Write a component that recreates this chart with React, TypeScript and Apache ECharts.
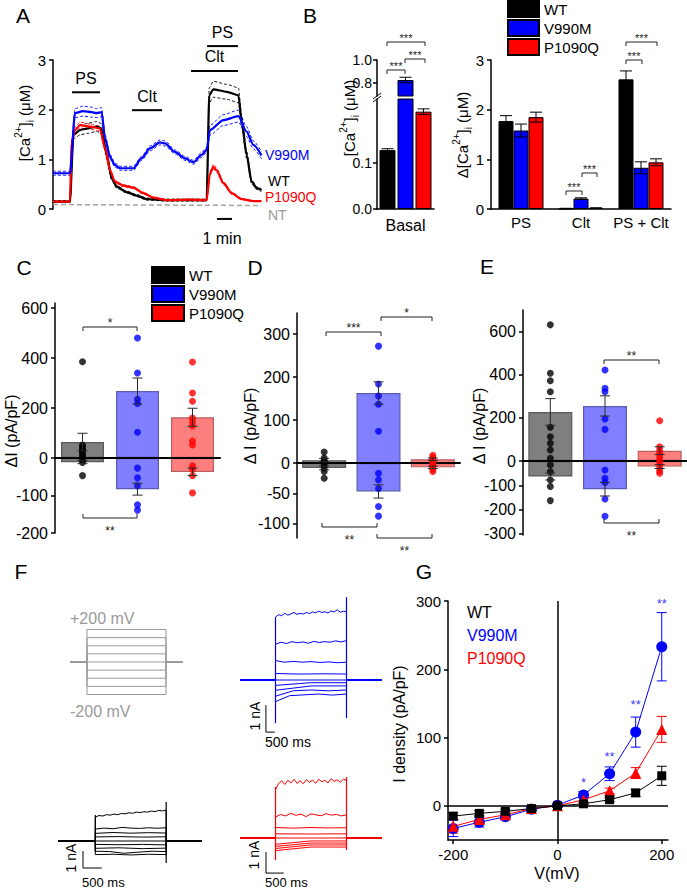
import React, { useEffect, useRef } from 'react';
import * as echarts from 'echarts';

const FONT = '"Liberation Sans", Arial, Helvetica, sans-serif';
const BLUE = '#0000ff';
const RED = '#ff0000';
const BLACK = '#000000';
const NTGRAY = '#a6a6a6';
const PROTO = '#9a9a9a';

const GENOTYPES = ['WT', 'V990M', 'P1090Q'];
const GCOL = [BLACK, BLUE, RED];

// ---------- Panel A : [Ca2+]i time courses (t in min, value in µM)
const aWtT = [0, 1.13, 1.36, 1.8, 2.24, 2.91, 3.24, 3.58, 3.91, 4.24, 4.91, 5.58, 6.24, 7.58, 8.69, 10.24, 10.42, 10.69, 11.58, 12.36, 12.58, 12.91, 13.24, 13.58, 13.9];
const aWtV = [0.15, 0.15, 1.49, 1.59, 1.62, 1.66, 1.62, 1.09, 0.62, 0.45, 0.34, 0.27, 0.2, 0.18, 0.18, 0.18, 2.29, 2.41, 2.36, 2.29, 1.76, 1.09, 0.55, 0.42, 0.38];
const aWtSem = [0.02, 0.02, 0.08, 0.1, 0.1, 0.1, 0.1, 0.07, 0.04, 0.03, 0.02, 0.02, 0.02, 0.02, 0.02, 0.02, 0.15, 0.16, 0.15, 0.15, 0.12, 0.07, 0.04, 0.03, 0.03];
const aV990MT = [0, 1.13, 1.47, 2.0, 2.58, 2.9, 3.24, 3.47, 3.8, 4.13, 4.47, 5.36, 5.9, 6.47, 7.13, 7.47, 8.13, 8.8, 9.36, 9.91, 10.24, 10.47, 11.36, 12.36, 12.9, 13.36, 13.9];
const aV990MV = [0.72, 0.72, 1.93, 1.97, 1.95, 1.93, 1.95, 1.43, 1.05, 0.885, 0.82, 0.82, 1.02, 1.22, 1.34, 1.32, 1.15, 1.02, 0.94, 1.09, 1.19, 1.59, 1.79, 1.87, 1.56, 1.29, 1.08];
const aV990MSem = [0.04, 0.04, 0.09, 0.1, 0.1, 0.09, 0.09, 0.07, 0.05, 0.04, 0.04, 0.04, 0.04, 0.05, 0.05, 0.05, 0.04, 0.04, 0.04, 0.05, 0.05, 0.1, 0.11, 0.12, 0.1, 0.08, 0.07];
const aP1090QT = [0, 1.13, 1.24, 1.47, 1.8, 2.47, 3.13, 3.47, 3.8, 4.13, 4.69, 5.36, 6.02, 6.69, 7.58, 9.13, 10.24, 10.47, 10.69, 10.91, 11.36, 11.91, 12.58, 13.36, 13.9];
const aP1090QV = [0.15, 0.15, 1.35, 1.59, 1.69, 1.66, 1.62, 1.22, 0.78, 0.55, 0.47, 0.43, 0.32, 0.23, 0.18, 0.19, 0.18, 0.72, 0.85, 0.78, 0.52, 0.32, 0.2, 0.16, 0.16];
const aP1090QSem = [0.01, 0.01, 0.05, 0.06, 0.06, 0.05, 0.05, 0.04, 0.03, 0.02, 0.02, 0.02, 0.02, 0.01, 0.01, 0.01, 0.01, 0.04, 0.05, 0.04, 0.03, 0.02, 0.01, 0.01, 0.01];
const aNtT = [0, 13.9];
const aNtV = [0.09, 0.07];
const aStimT0 = [1.27, 5.27, 9.2, 10.27];
const aStimT1 = [3.13, 7.27, 12.33, 12.33];
const aStimY = [2.35, 1.99, 2.78, 3.28];
const aStimLabel = ['PS', 'Clt', 'Clt', 'PS'];
const aScaleBarMin = [10.93, 11.93];

// ---------- Panel B
const bBasal = [0.128, 0.826, 0.2115];
const bBasalSem = [0.003, 0.024, 0.006];
const bCats = ['PS', 'Clt', 'PS + Clt'];
const bWt = [1.77, 0.01, 2.61];
const bWtSem = [0.11, 0.004, 0.17];
const bV990M = [1.58, 0.21, 0.83];
const bV990MSem = [0.13, 0.015, 0.12];
const bP1090Q = [1.85, 0.02, 0.94];
const bP1090QSem = [0.1, 0.004, 0.07];

// ---------- Panels C, D, E (ΔI, pA/pF); negative half of the axis is expanded
const cPos = [64, 268, 163];
const cPosSem = [35, 52, 36];
const cNeg = [-11, -83, -37];
const cNegSem = [4, 16, 10];
const cDotsWt = [385, 52, 44, 36, 28, 20, 12, 4, -5, -12, -47];
const cDotsV990M = [480, 340, 235, 218, 103, -27, -53, -74, -125, -139];
const cDotsP1090Q = [384, 260, 227, 160, 145, 128, 68, 52, -21, -30, -47, -93];
const cTicks = [-200, -100, 0, 200, 400, 600];

const dPos = [7, 163, 9];
const dPosSem = [4, 26, 3];
const dNeg = [-8, -47, -7];
const dNegSem = [3, 11, 2];
const dDotsWt = [26, 12, 6, 2, -3, -8, -14, -25];
const dDotsV990M = [272, 184, 156, 137, 74, -17, -28, -42, -72, -88];
const dDotsP1090Q = [18, 13, 9, 5, 1, -3, -7, -10, -14];
const dTicks = [-100, -50, 0, 100, 200, 300];

const ePos = [228, 256, 48];
const ePosSem = [62, 47, 18];
const eNeg = [-64, -116, -23];
const eNegSem = [14, 28, 8];
const eDotsWt = [633, 408, 373, 322, 157, 113, 82, 51, 13, -16, -44, -78, -105, -163];
const eDotsV990M = [423, 338, 322, 195, 147, -37, -71, -88, -156, -227];
const eDotsP1090Q = [187, 66, 50, 35, 20, 5, -10, -25, -40, -50];
const eTicks = [-300, -200, -100, 0, 200, 400, 600];

// ---------- Panel F : protocol (mV) and current traces (nA) during the step
const fProtoV = [200, 150, 100, 50, 0, -50, -100, -150, -200];
const fProtoMs = 2000;
const fV990MSweeps = [
  [2.33, 2.42, 2.38, 2.47, 2.4, 2.45, 2.5, 2.43, 2.47, 2.44, 2.5, 2.46, 2.52, 2.49, 2.55, 2.5, 2.53, 2.48, 2.56, 2.52, 2.6, 2.51, 2.55, 2.53],
  [1.32, 1.4, 1.35, 1.42, 1.38, 1.41, 1.36, 1.43, 1.39, 1.42, 1.4, 1.45, 1.41, 1.46],
  [0.72, 0.66, 0.69, 0.66, 0.68, 0.65, 0.67, 0.64, 0.66],
  [0.24, 0.22, 0.23, 0.22],
  [0, 0],
  [-0.2, -0.1, -0.1],
  [-0.38, -0.22, -0.22],
  [-0.6, -0.4, -0.37, -0.4, -0.37],
  [-0.8, -0.58, -0.55, -0.52, -0.56, -0.52],
];
const fWtSweeps = [
  [1.4, 1.5, 1.47, 1.55, 1.52, 1.58, 1.55, 1.62, 1.6, 1.66, 1.63, 1.7, 1.67, 1.72, 1.7, 1.76, 1.73, 1.8, 1.77, 1.82],
  [0.7, 0.76, 0.72, 0.8, 0.76, 0.74, 0.78, 0.75, 0.78],
  [0.45, 0.5, 0.46, 0.49, 0.47],
  [0.24, 0.26, 0.23, 0.25],
  [0, 0],
  [-0.2, -0.22, -0.2, -0.23],
  [-0.43, -0.4, -0.45, -0.42],
  [-0.6, -0.62, -0.72, -0.66, -0.6, -0.62],
  [-0.8, -0.78, -0.82, -0.78, -0.8],
];
const fP1090QSweeps = [
  [2.3, 2.6, 2.72, 2.55, 2.75, 2.62, 2.8, 2.6, 2.72, 2.58, 2.78, 2.65, 2.76, 2.6, 2.8, 2.68, 2.75, 2.62, 2.82, 2.7, 2.77, 2.66, 2.8, 2.74],
  [1.0, 1.12, 1.05, 1.18, 1.08, 1.14, 1.02, 1.15, 1.1, 1.06, 1.16, 1.09, 1.12, 1.05, 1.1],
  [0.5, 0.47, 0.5, 0.48, 0.49],
  [0.2, 0.19, 0.2],
  [0, 0],
  [-0.3, -0.14, -0.14],
  [-0.4, -0.24, -0.24],
  [-0.5, -0.33, -0.33],
  [-0.6, -0.43, -0.43],
];
// capacitive transients [onsetHigh, onsetLow, offsetHigh, offsetLow]
const fV990MSpikes = [2.33, -1.6, 3.07, -1.41];
const fWtSpikes = [1.53, -0.65, 2.29, -1.29];
const fP1090QSpikes = [2.43, -1.05, 2.9, -0.57];
const fV990MPulseMs = 4000;
const fWtPulseMs = 1900;
const fP1090QPulseMs = 2000;

// ---------- Panel G : I–V
const gV = [-200, -150, -100, -50, 0, 50, 100, 150, 200];
const gWt = [-15, -11, -8, -4, 0, 3, 9, 19, 44];
const gWtSem = [5, 4, 3, 3, 2, 2, 3, 5, 14];
const gV990M = [-33, -24, -16, -5, 1, 16, 47, 108, 233];
const gV990MSem = [12, 7, 4, 3, 2, 5, 10, 22, 50];
const gP1090Q = [-30, -20, -13, -4, 0, 9, 22, 48, 112];
const gP1090QSem = [10, 6, 4, 3, 2, 3, 4, 8, 19];
const gSigV = [50, 100, 150, 200];
const gSigY = [34, 73, 149, 297];
const gSigLabel = ['*', '**', '**', '**'];

// ---------------------------------------------------------------- helpers
const zip = (xs: number[], ys: number[]) => xs.map((x, i) => [x, ys[i]]);
const disp = (v: number, f: number) => (v < 0 ? v * f : v);
const AXL = { color: '#000', width: 1.5 };

function T(x: number, y: number, text: string, fontSize = 15, fill = '#000', align = 'center', extra: any = {}) {
  return {
    type: 'text', x, y, z: 100, silent: true,
    style: { text, fontSize, fontFamily: FONT, fill, align, verticalAlign: 'middle', textAlign: align, textVerticalAlign: 'middle' },
    ...extra,
  };
}
function richLabel(x: number, y: number, text: string) {
  return {
    type: 'text', x, y, z: 100, silent: true, rotation: Math.PI / 2,
    style: {
      text, fill: '#000', align: 'center', verticalAlign: 'middle', textAlign: 'center', textVerticalAlign: 'middle',
      fontSize: 15, fontFamily: FONT,
      rich: {
        n: { fontSize: 15, fontFamily: FONT, lineHeight: 22, fill: '#000' },
        sup: { fontSize: 10, fontFamily: FONT, lineHeight: 10, verticalAlign: 'top', fill: '#000' },
        sub: { fontSize: 10, fontFamily: FONT, lineHeight: 10, verticalAlign: 'bottom', fill: '#000' },
      },
    },
  };
}
function bracket(x1: number, x2: number, y: number, dir: number, stars: string, fs = 12) {
  return [
    {
      type: 'polyline', z: 100, silent: true,
      shape: { points: [[x1, y + 4 * dir], [x1, y], [x2, y], [x2, y + 4 * dir]] },
      style: { stroke: '#222', lineWidth: 1, fill: null },
    },
    T((x1 + x2) / 2, dir > 0 ? y - 4 : y + 13, stars, fs, '#222'),
  ];
}
function errBars(axis: number, items: number[][], color: string, cap: number, offset: number, z: number) {
  return {
    type: 'custom', xAxisIndex: axis, yAxisIndex: axis, z, silent: true,
    encode: { x: 0, y: [1, 2] },
    data: items,
    renderItem: (_p: any, api: any) => {
      const x = api.value(0);
      const a = api.coord([x, api.value(1)]);
      const b = api.coord([x, api.value(2)]);
      const cx = a[0] + offset;
      const h = cap / 2;
      const style = { stroke: color, lineWidth: 1 };
      return {
        type: 'group',
        children: [
          { type: 'line', shape: { x1: cx, y1: a[1], x2: cx, y2: b[1] }, style },
          { type: 'line', shape: { x1: cx - h, y1: a[1], x2: cx + h, y2: a[1] }, style },
          { type: 'line', shape: { x1: cx - h, y1: b[1], x2: cx + h, y2: b[1] }, style },
        ],
      };
    },
  };
}
function lineS(axis: number, data: any[], color: string, width: number, extra: any = {}) {
  return {
    type: 'line', xAxisIndex: axis, yAxisIndex: axis, data, symbol: 'none', showSymbol: false,
    lineStyle: { color, width }, itemStyle: { color }, silent: true, clip: false, z: 3,
    ...extra,
  };
}
function sweepData(vals: number[], pulse: number, w0: number, w1: number) {
  const n = vals.length;
  const pts: number[][] = [[w0, 0], [0, 0]];
  vals.forEach((v, i) => pts.push([(i * pulse) / (n - 1), v]));
  pts.push([pulse, 0], [w1, 0]);
  return pts;
}

// --- C/D/E panel builder
function dotPanel(axis: number, f: number, pos: number[], posSem: number[], neg: number[], negSem: number[], dots: number[][], barW: number) {
  const fills = ['rgba(0,0,0,0.5)', 'rgba(0,0,255,0.5)', 'rgba(255,0,0,0.5)'];
  const borders = ['#5a5a5a', '#5c5cb0', '#b86060'];
  const mk = (vals: number[]) => vals.map((v, i) => ({ value: disp(v, f), itemStyle: { color: fills[i], borderColor: borders[i], borderWidth: 1.2 } }));
  const dotData: any[] = [];
  dots.forEach((arr, i) => arr.forEach((v) => dotData.push({ value: [i, disp(v, f)], itemStyle: { color: GCOL[i] } })));
  const errs: number[][] = [];
  pos.forEach((v, i) => errs.push([i, disp(v - posSem[i], f), disp(v + posSem[i], f)]));
  neg.forEach((v, i) => errs.push([i, disp(v - negSem[i], f), disp(v + negSem[i], f)]));
  return [
    { type: 'bar', name: 'pos' + axis, xAxisIndex: axis, yAxisIndex: axis, data: mk(pos), barWidth: barW, barGap: '-100%', z: 2, silent: true },
    { type: 'bar', name: 'neg' + axis, xAxisIndex: axis, yAxisIndex: axis, data: mk(neg), barWidth: barW, barGap: '-100%', z: 2, silent: true },
    { type: 'scatter', xAxisIndex: axis, yAxisIndex: axis, data: dotData, symbolSize: 7, z: 6, silent: true },
    errBars(axis, errs, '#2a2a2a', 10, 0, 7),
  ];
}
function dotAxes(axis: number, f: number, min: number, max: number, ticks: number[]) {
  const tv = ticks.map((t) => disp(t, f));
  return {
    x: {
      gridIndex: axis, type: 'category', data: GENOTYPES, z: 5,
      axisLine: { show: true, onZero: true, lineStyle: { color: '#000', width: 2 } },
      axisTick: { show: false }, axisLabel: { show: false }, splitLine: { show: false },
    },
    y: {
      gridIndex: axis, type: 'value', min, max,
      axisLine: { show: true, lineStyle: AXL },
      axisTick: { show: true, length: 4, lineStyle: AXL, customValues: tv },
      axisLabel: {
        customValues: tv, fontSize: 16, margin: 7, color: '#000', fontFamily: FONT,
        formatter: (v: number) => String(Math.round(v < 0 ? v / f : v)),
      },
      splitLine: { show: false },
    },
  };
}

function buildOption() {
  const grids = [
    { left: 53, top: 60, width: 210, height: 149 },
    { left: 377, top: 60, width: 57, height: 36 },
    { left: 377, top: 99, width: 57, height: 110 },
    { left: 491, top: 60, width: 180, height: 149 },
    { left: 55, top: 303, width: 165, height: 230 },
    { left: 297, top: 313, width: 163, height: 225 },
    { left: 523, top: 310, width: 164, height: 225 },
    { left: 70, top: 623, width: 113, height: 78 },
    { left: 240, top: 588.2, width: 142, height: 148.5 },
    { left: 58, top: 798.5, width: 144, height: 73.1 },
    { left: 240, top: 775, width: 142, height: 100.8 },
    { left: 448, top: 601, width: 220, height: 239 },
  ];
  const hidden = (g: number, min: number, max: number) => ({ gridIndex: g, type: 'value', min, max, show: false, splitLine: { show: false } });
  const yStd = (g: number, min: number, max: number, extra: any = {}) => ({
    gridIndex: g, type: 'value', min, max,
    axisLine: { show: true, onZero: false, lineStyle: AXL },
    axisTick: { show: true, length: 4, lineStyle: AXL },
    axisLabel: { fontSize: 15, margin: 7, color: '#000', fontFamily: FONT },
    splitLine: { show: false },
    ...extra,
  });
  const C = dotAxes(4, 1.5, -300, 620, cTicks);
  const D = dotAxes(5, 1.4, -174, 349, dTicks);
  const E = dotAxes(6, 1.13, -344, 702, eTicks);

  const xAxis: any[] = [
    hidden(0, 0, 14),
    { gridIndex: 1, type: 'category', data: ['Basal'], show: false },
    {
      gridIndex: 2, type: 'category', data: ['Basal'],
      axisLine: { show: true, lineStyle: AXL }, axisTick: { show: false },
      axisLabel: { fontSize: 16, margin: 8, color: '#000', fontFamily: FONT },
    },
    {
      gridIndex: 3, type: 'category', data: bCats,
      axisLine: { show: true, lineStyle: AXL }, axisTick: { show: false },
      axisLabel: { interval: 0, hideOverlap: false, fontSize: 15, margin: 6, color: '#000', fontFamily: FONT },
    },
    C.x, D.x, E.x,
    hidden(7, -430, 2430),
    hidden(8, -2000, 6000),
    hidden(9, -1000, 2860),
    hidden(10, -1000, 3000),
    {
      gridIndex: 11, type: 'value', min: -210, max: 212,
      axisLine: { show: true, onZero: false, lineStyle: AXL },
      axisTick: { show: true, length: 4, lineStyle: AXL, customValues: [-200, 0, 200] },
      axisLabel: { customValues: [-200, 0, 200], fontSize: 15, margin: 7, color: '#000', fontFamily: FONT },
      splitLine: { show: false },
    },
  ];
  const yAxis: any[] = [
    yStd(0, 0, 3, { interval: 1 }),
    yStd(1, 0.687, 1.0, {
      axisTick: { show: true, length: 4, lineStyle: AXL, customValues: [0.8, 1.0] },
      axisLabel: { customValues: [0.8, 1.0], fontSize: 14, margin: 5, color: '#000', fontFamily: FONT, formatter: (v: number) => v.toFixed(1) },
    }),
    yStd(2, 0, 0.239, {
      axisTick: { show: true, length: 4, lineStyle: AXL, customValues: [0, 0.1] },
      axisLabel: { customValues: [0, 0.1], fontSize: 14, margin: 5, color: '#000', fontFamily: FONT, formatter: (v: number) => v.toFixed(1) },
    }),
    yStd(3, 0, 3, { interval: 1 }),
    C.y, D.y, E.y,
    hidden(7, -240, 240),
    hidden(8, -2.1, 3.4),
    hidden(9, -1.8, 2.5),
    hidden(10, -1.8, 3.0),
    yStd(11, -50, 300, {
      axisTick: { show: true, length: 4, lineStyle: AXL, customValues: [0, 100, 200, 300] },
      axisLabel: { customValues: [0, 100, 200, 300], fontSize: 15, margin: 7, color: '#000', fontFamily: FONT },
    }),
  ];

  const series: any[] = [];

  // ---- A
  const aTr = [
    { t: aWtT, v: aWtV, s: aWtSem, c: BLACK },
    { t: aP1090QT, v: aP1090QV, s: aP1090QSem, c: RED },
    { t: aV990MT, v: aV990MV, s: aV990MSem, c: BLUE },
  ];
  series.push(lineS(0, zip(aNtT, aNtV), NTGRAY, 1.5, { lineStyle: { color: NTGRAY, width: 1.5, type: [5, 3] } }));
  aTr.forEach((tr) => {
    const up = tr.t.map((t, i) => [t, tr.v[i] + tr.s[i]]);
    const lo = tr.t.map((t, i) => [t, tr.v[i] - tr.s[i]]);
    const dash = { lineStyle: { color: tr.c, width: 0.9, type: [3, 2] }, smooth: 0.25, smoothMonotone: 'x' };
    series.push(lineS(0, up, tr.c, 0.9, dash));
    series.push(lineS(0, lo, tr.c, 0.9, dash));
  });
  aTr.forEach((tr) => series.push(lineS(0, zip(tr.t, tr.v), tr.c, 2.2, { smooth: 0.25, smoothMonotone: 'x', z: 4 })));
  series.push(lineS(0, aScaleBarMin.map((t) => [t, -0.2]), BLACK, 2));
  series.push({
    type: 'custom', xAxisIndex: 0, yAxisIndex: 0, z: 5, silent: true, clip: false,
    data: aStimT0.map((t0, i) => [t0, aStimT1[i], aStimY[i], i]),
    renderItem: (_p: any, api: any) => {
      const i = api.value(3);
      const p0 = api.coord([api.value(0), api.value(2)]);
      const p1 = api.coord([api.value(1), api.value(2)]);
      return {
        type: 'group',
        children: [
          { type: 'line', shape: { x1: p0[0], y1: p0[1], x2: p1[0], y2: p1[1] }, style: { stroke: '#000', lineWidth: 2 } },
          {
            type: 'text', x: (p0[0] + p1[0]) / 2, y: p0[1] - 14,
            style: { text: aStimLabel[i], fontSize: 16, fontFamily: FONT, fill: '#000', align: 'center', verticalAlign: 'middle', textAlign: 'center', textVerticalAlign: 'middle' },
          },
        ],
      };
    },
  });

  // ---- B basal (broken axis: two grids)
  const bBorder = { borderColor: '#000', borderWidth: 1 };
  series.push({ type: 'bar', name: 'V990M', xAxisIndex: 1, yAxisIndex: 1, data: [bBasal[1]], barWidth: 16, itemStyle: { color: BLUE, ...bBorder }, silent: true });
  GENOTYPES.forEach((g, i) => {
    series.push({ type: 'bar', name: g, xAxisIndex: 2, yAxisIndex: 2, data: [bBasal[i]], barWidth: 16, barGap: '12.5%', itemStyle: { color: GCOL[i], ...bBorder }, silent: true });
  });
  series.push(errBars(1, [[0, bBasal[1] - bBasalSem[1], bBasal[1] + bBasalSem[1]]], '#000', 12, 0, 5));
  series.push(errBars(2, [[0, bBasal[0] - bBasalSem[0], bBasal[0] + bBasalSem[0]]], '#000', 12, -18, 5));
  series.push(errBars(2, [[0, bBasal[2] - bBasalSem[2], bBasal[2] + bBasalSem[2]]], '#000', 12, 18, 5));

  // ---- B Δ
  const bVals = [bWt, bV990M, bP1090Q];
  const bSems = [bWtSem, bV990MSem, bP1090QSem];
  GENOTYPES.forEach((g, i) => {
    series.push({ type: 'bar', name: g, xAxisIndex: 3, yAxisIndex: 3, data: bVals[i], barWidth: 15, barGap: '0%', itemStyle: { color: GCOL[i], ...bBorder }, silent: true });
  });
  GENOTYPES.forEach((_g, i) => {
    series.push(errBars(3, bVals[i].map((v, j) => [j, v - bSems[i][j], v + bSems[i][j]]), '#000', 12, (i - 1) * 15, 5));
  });

  // ---- C, D, E
  series.push(...dotPanel(4, 1.5, cPos, cPosSem, cNeg, cNegSem, [cDotsWt, cDotsV990M, cDotsP1090Q], 43));
  series.push(...dotPanel(5, 1.4, dPos, dPosSem, dNeg, dNegSem, [dDotsWt, dDotsV990M, dDotsP1090Q], 44));
  series.push(...dotPanel(6, 1.13, ePos, ePosSem, eNeg, eNegSem, [eDotsWt, eDotsV990M, eDotsP1090Q], 44));

  // ---- F protocol
  fProtoV.forEach((v) => {
    series.push(lineS(7, [[-430, 0], [0, 0], [0, v], [fProtoMs, v], [fProtoMs, 0], [2430, 0]], PROTO, 1));
  });
  // ---- F traces
  const fPanels = [
    { ax: 8, sw: fV990MSweeps, sp: fV990MSpikes, T: fV990MPulseMs, w0: -2000, w1: 6000, c: BLUE, sb: [-540, -1.93] },
    { ax: 9, sw: fWtSweeps, sp: fWtSpikes, T: fWtPulseMs, w0: -1000, w1: 2860, c: BLACK, sb: [-330, -1.59] },
    { ax: 10, sw: fP1090QSweeps, sp: fP1090QSpikes, T: fP1090QPulseMs, w0: -1000, w1: 3000, c: RED, sb: [-268, -1.67] },
  ];
  fPanels.forEach((p) => {
    p.sw.forEach((vals) => series.push(lineS(p.ax, sweepData(vals, p.T, p.w0, p.w1), p.c, 1)));
    series.push(lineS(p.ax, [[0, p.sp[0]], [0, p.sp[1]]], p.c, 1.2));
    series.push(lineS(p.ax, [[p.T, p.sp[2]], [p.T, p.sp[3]]], p.c, 1.2));
    series.push(lineS(p.ax, [[p.sb[0], p.sb[1] + 1], [p.sb[0], p.sb[1]], [p.sb[0] + 500, p.sb[1]]], BLACK, 1));
  });

  // ---- G
  const gSets = [
    { v: gV990M, s: gV990MSem, c: BLUE, sym: 'circle', size: 11 },
    { v: gP1090Q, s: gP1090QSem, c: RED, sym: 'triangle', size: 11 },
    { v: gWt, s: gWtSem, c: BLACK, sym: 'rect', size: 9 },
  ];
  gSets.forEach((g, k) => {
    series.push(errBars(11, gV.map((x, i) => [x, g.v[i] - g.s[i], g.v[i] + g.s[i]]), g.c, 10, 0, 3 + k));
    const s: any = {
      type: 'line', xAxisIndex: 11, yAxisIndex: 11, data: zip(gV, g.v), symbol: g.sym, symbolSize: g.size,
      showSymbol: true, lineStyle: { color: g.c, width: 1 }, itemStyle: { color: g.c }, silent: true, z: 4 + k,
    };
    if (k === 0) {
      s.markLine = {
        silent: true, symbol: 'none', animation: false, label: { show: false },
        lineStyle: { color: '#000', width: 1.5, type: 'solid' },
        data: [{ yAxis: 0 }, { xAxis: 0 }],
      };
    }
    series.push(s);
  });
  series.push({
    type: 'scatter', xAxisIndex: 11, yAxisIndex: 11, symbolSize: 0, silent: true, z: 8,
    data: gSigV.map((v, i) => ({ value: [v, gSigY[i]], label: { formatter: gSigLabel[i] } })),
    label: { show: true, position: 'inside', color: BLUE, fontSize: 13, fontFamily: FONT },
  });

  // ---------------- graphic annotations
  const g: any[] = [
    T(23, 15, 'A', 21), T(310, 15, 'B', 21), T(24, 267, 'C', 21), T(255, 267, 'D', 21),
    T(487, 266, 'E', 21), T(21, 571, 'F', 21), T(424, 571, 'G', 21),
    richLabel(24, 123, '{n|[Ca}{sup|2+}{n|]}{sub|i}{n| (μM)}'),
    richLabel(349, 118, '{n|[Ca}{sup|2+}{n|]}{sub|i}{n| (μM)}'),
    richLabel(462, 135, '{n|Δ[Ca}{sup|2+}{n|]}{sub|i}{n| (μM)}'),
    T(265, 155, 'V990M', 14, BLUE, 'left'),
    T(268, 181, 'WT', 14, BLACK, 'left'),
    T(265, 197, 'P1090Q', 14, RED, 'left'),
    T(268, 215, 'NT', 14, '#999', 'left'),
    T(222, 238, '1 min', 16),
    { type: 'line', z: 100, silent: true, shape: { x1: 373, y1: 99, x2: 381, y2: 93 }, style: { stroke: '#000', lineWidth: 1 } },
    { type: 'line', z: 100, silent: true, shape: { x1: 373, y1: 102, x2: 381, y2: 96 }, style: { stroke: '#000', lineWidth: 1 } },
    T(11, 431, 'ΔI (pA/pF)', 16, '#000', 'center', { rotation: Math.PI / 2 }),
    T(250, 426, 'Δ I (pA/pF)', 16, '#000', 'center', { rotation: Math.PI / 2 }),
    T(479, 426, 'Δ I (pA/pF)', 16, '#000', 'center', { rotation: Math.PI / 2 }),
    T(70, 618, '+200 mV', 16, PROTO, 'left'),
    T(70, 711, '-200 mV', 16, PROTO, 'left'),
    T(255, 716, '1 nA', 14, '#000', 'center', { rotation: Math.PI / 2 }),
    T(265, 742, '500 ms', 14, '#000', 'left'),
    T(71, 858, '1 nA', 14, '#000', 'center', { rotation: Math.PI / 2 }),
    T(82, 882, '500 ms', 13, '#000', 'left'),
    T(254, 855, '1 nA', 14, '#000', 'center', { rotation: Math.PI / 2 }),
    T(265, 882, '500 ms', 13, '#000', 'left'),
    T(557, 873, 'V(mV)', 16),
    T(399, 724, 'I density (pA/pF)', 16, '#000', 'center', { rotation: Math.PI / 2 }),
    T(467, 612, 'WT', 16, BLACK, 'left'),
    T(467, 635, 'V990M', 16, BLUE, 'left'),
    T(467, 658, 'P1090Q', 16, RED, 'left'),
    ...bracket(387, 425, 42, 1, '***', 11),
    ...bracket(405, 425, 59, 1, '***', 11),
    ...bracket(387, 405, 70, 1, '***', 11),
    ...bracket(566, 582, 191, 1, '***', 11),
    ...bracket(582, 597, 173, 1, '***', 11),
    ...bracket(626, 642, 60, 1, '***', 11),
    ...bracket(626, 657, 42, 1, '***', 11),
    ...bracket(83, 137, 327, 1, '*'),
    ...bracket(83, 137, 518, -1, '**'),
    ...bracket(326, 381, 332, 1, '***'),
    ...bracket(381, 432, 317, 1, '*'),
    ...bracket(322, 377, 527, -1, '**'),
    ...bracket(377, 432, 538, -1, '**'),
    ...bracket(604, 659, 360, 1, '**'),
    ...bracket(604, 659, 523, -1, '**'),
  ];

  const legendBase = {
    orient: 'vertical', itemGap: 1, padding: 0, icon: 'rect', selectedMode: false,
    data: GENOTYPES, textStyle: { fontSize: 15, fontFamily: FONT, color: '#000', lineHeight: 16 },
  };

  return {
    animation: false,
    backgroundColor: '#ffffff',
    textStyle: { fontFamily: FONT },
    grid: grids,
    xAxis,
    yAxis,
    legend: [
      { ...legendBase, left: 507, top: 0, itemWidth: 31, itemHeight: 16 },
      { ...legendBase, left: 151, top: 266, itemWidth: 32, itemHeight: 16 },
    ],
    series,
    graphic: { elements: g },
  };
}

export default function App() {
  const ref = useRef<HTMLDivElement>(null);
  useEffect(() => {
    if (!ref.current) return;
    const chart = echarts.init(ref.current, undefined, { renderer: 'svg' });
    chart.setOption(buildOption() as any);
    return () => chart.dispose();
  }, []);
  return (
    <div
      ref={ref}
      style={{ position: 'absolute', left: 0, top: 0, width: 687, height: 891, background: '#fff' }}
    />
  );
}
